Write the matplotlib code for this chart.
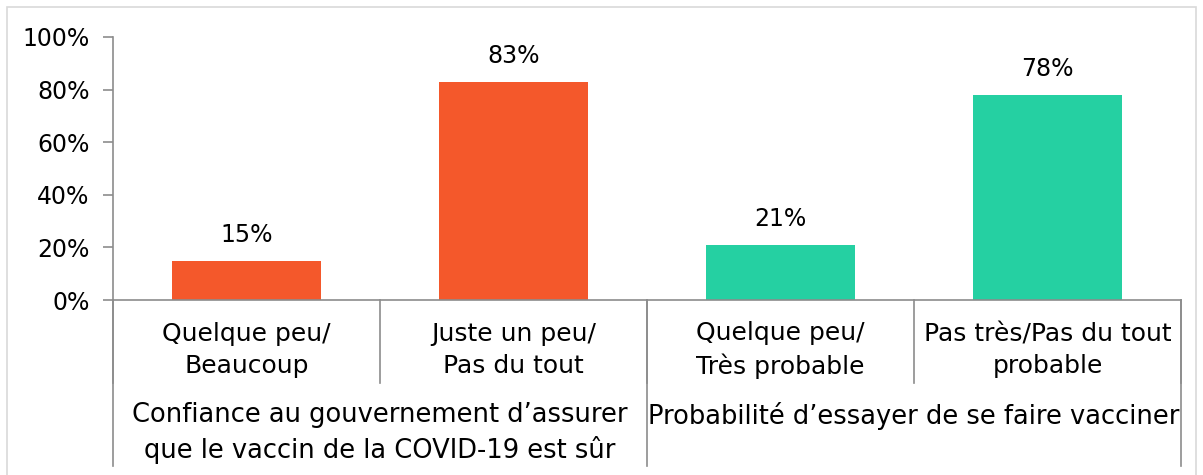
import matplotlib.pyplot as plt
from matplotlib.patches import Rectangle

plt.rcParams['font.family'] = ['DejaVu Sans']

categories = ["Quelque peu/\nBeaucoup", "Juste un peu/\nPas du tout",
              "Quelque peu/\nTrès probable", "Pas très/Pas du tout\nprobable"]
values = [15, 83, 21, 78]
groups = ["Confiance au gouvernement d’assurer\nque le vaccin de la COVID-19 est sûr",
          "Probabilité d’essayer de se faire vacciner"]
group_sizes = [2, 2]
colors = ["#F4582B", "#F4582B", "#25D0A2", "#25D0A2"]

W, H = 1203, 475
fig = plt.figure(figsize=(W / 100, H / 100), dpi=100)
fig.patches.append(Rectangle((7 / W, -0.1), (1196 - 7) / W, 1.1 - 7 / H,
                             transform=fig.transFigure, fill=False,
                             edgecolor="#D9D9D9", lw=1.2))

x0, x1, y0, y1 = 113, 1181, 300, 37
ax = fig.add_axes([x0 / W, 1 - y0 / H, (x1 - x0) / W, (y0 - y1) / H])

xs = list(range(len(values)))
ax.bar(xs, values, width=0.555, color=colors)
for x, v in zip(xs, values):
    ax.annotate(f"{v}%", (x, v), xytext=(0, 10), textcoords="offset points",
                ha="center", va="bottom", fontsize=17)

ax.set_xlim(-0.5, len(values) - 0.5)
ax.set_ylim(0, 100)
ax.set_yticks(range(0, 101, 20))
ax.set_yticklabels([f"{t}%" for t in range(0, 101, 20)], fontsize=17)
ax.set_xticks([])
for s in ["top", "right"]:
    ax.spines[s].set_visible(False)
for s in ["left", "bottom"]:
    ax.spines[s].set_color("#8C8C8C")
    ax.spines[s].set_linewidth(1.2)
ax.tick_params(axis="y", color="#8C8C8C", length=7, width=1.2, pad=10)

gray = "#8C8C8C"
px = (y0 - y1)  # axes height in pixels


def yf(p):
    return -(p - y0) / px


tr = ax.get_xaxis_transform()
# category level separators
for i in range(len(values) + 1):
    xb = i - 0.5
    ax.plot([xb, xb], [0, yf(383)], color=gray, lw=1.2, transform=tr, clip_on=False)
for x, c in zip(xs, categories):
    ax.text(x, yf(350), c, ha="center", va="center", fontsize=18,
            transform=tr, linespacing=1.4)

# group level
start = 0
bounds = [-0.5]
for g, n in zip(groups, group_sizes):
    mid = start + (n - 1) / 2
    ax.text(mid, yf(402), g, ha="center", va="top", fontsize=18.5,
            transform=tr, linespacing=1.35)
    start += n
    bounds.append(start - 0.5)
for xb in bounds:
    ax.plot([xb, xb], [0, yf(466)], color=gray, lw=1.2, transform=tr, clip_on=False)

fig.savefig("out.png", dpi=100)
